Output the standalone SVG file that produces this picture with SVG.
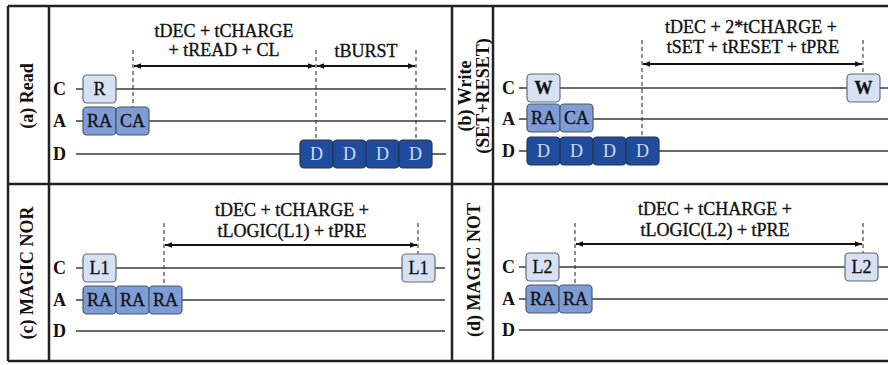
<svg xmlns="http://www.w3.org/2000/svg" width="888" height="365" viewBox="0 0 888 365">
<defs>
<marker id="ah" viewBox="0 0 10 10" refX="10" refY="5" markerWidth="7" markerHeight="7" markerUnits="userSpaceOnUse" orient="auto-start-reverse">
<path d="M0,1 L10,5 L0,9 Z" fill="#111"/>
</marker>
<style>
.frame{stroke:#222;stroke-width:2.5;fill:none}
.tl{stroke:#3a3a3a;stroke-width:1.6;fill:none}
.dash{stroke:#333;stroke-width:1.1;stroke-dasharray:4 3;fill:none}
.arr{stroke:#111;stroke-width:2.2;fill:none;marker-start:url(#ah);marker-end:url(#ah)}
.lt{fill:#d7e1f2;stroke:#5f6b7c;stroke-width:1.2}
.md{fill:#7e9dd4;stroke:#4a5670;stroke-width:1.2}
.dk{fill:#1f4c9c;stroke:#2a3550;stroke-width:1.2}
text{font-family:"Liberation Serif","Times New Roman",serif;fill:#111}
.lab{font-size:18px;font-weight:bold}
.side{font-size:18px;font-weight:bold;text-anchor:middle}
.eq{font-size:18px;text-anchor:middle;stroke:#111;stroke-width:0.35}
.bx{font-size:18px;text-anchor:middle;stroke:#111;stroke-width:0.3}
.bxw{font-size:18px;text-anchor:middle;fill:#d3ddf2}
</style>
</defs>
<rect width="888" height="365" fill="#fff"/>
<g id="frame">
<line class="frame" x1="8" y1="6" x2="888" y2="6"/>
<line class="frame" x1="8" y1="184" x2="888" y2="184"/>
<line class="frame" x1="8" y1="361" x2="888" y2="361"/>
<line class="frame" x1="8" y1="6" x2="8" y2="361"/>
<line class="frame" x1="49" y1="6" x2="49" y2="361"/>
<line class="frame" x1="452" y1="6" x2="452" y2="361"/>
<line class="frame" x1="493" y1="6" x2="493" y2="361"/>
</g>
<g id="connectors">
<line class="tl" x1="76" y1="89" x2="446" y2="89"/>
<line class="tl" x1="76" y1="121" x2="446" y2="121"/>
<line class="tl" x1="76" y1="154" x2="446" y2="154"/>
<line class="tl" x1="519" y1="88" x2="888" y2="88"/>
<line class="tl" x1="519" y1="119" x2="888" y2="119"/>
<line class="tl" x1="519" y1="151" x2="888" y2="151"/>
<line class="tl" x1="76" y1="268" x2="445" y2="268"/>
<line class="tl" x1="76" y1="300" x2="445" y2="300"/>
<line class="tl" x1="76" y1="331" x2="445" y2="331"/>
<line class="tl" x1="519" y1="267" x2="888" y2="267"/>
<line class="tl" x1="519" y1="299" x2="888" y2="299"/>
<line class="tl" x1="519" y1="330" x2="888" y2="330"/>
<line class="dash" x1="133" y1="50" x2="133" y2="107"/>
<line class="dash" x1="316" y1="50" x2="316" y2="140"/>
<line class="dash" x1="416" y1="50" x2="416" y2="140"/>
<line class="dash" x1="642" y1="40" x2="642" y2="137"/>
<line class="dash" x1="863" y1="40" x2="863" y2="74"/>
<line class="dash" x1="164" y1="223" x2="164" y2="286"/>
<line class="dash" x1="418" y1="223" x2="418" y2="254"/>
<line class="dash" x1="575" y1="223" x2="575" y2="285"/>
<line class="dash" x1="863" y1="223" x2="863" y2="253"/>
<line class="arr" x1="134" y1="66" x2="315" y2="66"/>
<line class="arr" x1="317" y1="66" x2="415" y2="66"/>
<line class="arr" x1="643" y1="64" x2="862" y2="64"/>
<line class="arr" x1="165" y1="245" x2="417" y2="245"/>
<line class="arr" x1="576" y1="244" x2="862" y2="244"/>
</g>
<g id="panel-a">
<text class="side" transform="translate(33,96) rotate(-90)">(a) Read</text>
<text class="lab" x="53" y="95">C</text>
<text class="lab" x="53" y="127">A</text>
<text class="lab" x="53" y="160">D</text>
<text class="eq" x="224" y="37">tDEC + tCHARGE</text>
<text class="eq" x="224" y="56">+ tREAD + CL</text>
<text class="eq" x="366" y="57">tBURST</text>
<g id="a-R"><rect class="lt" x="83" y="75" width="33" height="28" rx="4"/><text class="bx" x="99.5" y="95">R</text></g>
<g id="a-RA"><rect class="md" x="83" y="107" width="33" height="28" rx="4"/><text class="bx" x="99.5" y="127">RA</text></g>
<g id="a-CA"><rect class="md" x="116" y="107" width="33" height="28" rx="4"/><text class="bx" x="132.5" y="127">CA</text></g>
<g id="a-D1"><rect class="dk" x="300" y="140" width="33" height="28" rx="4"/><text class="bxw" x="316.5" y="160">D</text></g>
<g id="a-D2"><rect class="dk" x="333" y="140" width="33" height="28" rx="4"/><text class="bxw" x="349.5" y="160">D</text></g>
<g id="a-D3"><rect class="dk" x="366" y="140" width="33" height="28" rx="4"/><text class="bxw" x="382.5" y="160">D</text></g>
<g id="a-D4"><rect class="dk" x="399" y="140" width="33" height="28" rx="4"/><text class="bxw" x="415.5" y="160">D</text></g>
</g>
<g id="panel-b">
<text class="side" transform="translate(471,96) rotate(-90)">(b) Write</text>
<text class="side" transform="translate(489,96) rotate(-90)">(SET+RESET)</text>
<text class="lab" x="502" y="94">C</text>
<text class="lab" x="502" y="125">A</text>
<text class="lab" x="502" y="157">D</text>
<text class="eq" x="751" y="33">tDEC + 2*tCHARGE +</text>
<text class="eq" x="753" y="53">tSET + tRESET + tPRE</text>
<g id="b-W1"><rect class="lt" x="527" y="74" width="33" height="28" rx="4"/><text class="bx" x="543.5" y="94" font-weight="bold">W</text></g>
<g id="b-RA"><rect class="md" x="527" y="104" width="33" height="28" rx="4"/><text class="bx" x="543.5" y="124">RA</text></g>
<g id="b-CA"><rect class="md" x="560" y="104" width="33" height="28" rx="4"/><text class="bx" x="576.5" y="124">CA</text></g>
<g id="b-D1"><rect class="dk" x="527" y="137" width="33" height="28" rx="4"/><text class="bxw" x="543.5" y="157">D</text></g>
<g id="b-D2"><rect class="dk" x="560" y="137" width="33" height="28" rx="4"/><text class="bxw" x="576.5" y="157">D</text></g>
<g id="b-D3"><rect class="dk" x="593" y="137" width="33" height="28" rx="4"/><text class="bxw" x="609.5" y="157">D</text></g>
<g id="b-D4"><rect class="dk" x="626" y="137" width="33" height="28" rx="4"/><text class="bxw" x="642.5" y="157">D</text></g>
<g id="b-W2"><rect class="lt" x="847" y="74" width="33" height="28" rx="4"/><text class="bx" x="863.5" y="94" font-weight="bold">W</text></g>
</g>
<g id="panel-c">
<text class="side" transform="translate(33,273) rotate(-90)">(c) MAGIC NOR</text>
<text class="lab" x="53" y="274">C</text>
<text class="lab" x="53" y="306">A</text>
<text class="lab" x="53" y="337">D</text>
<text class="eq" x="292" y="216">tDEC + tCHARGE +</text>
<text class="eq" x="292" y="237">tLOGIC(L1) + tPRE</text>
<g id="c-L1a"><rect class="lt" x="83" y="254" width="33" height="28" rx="4"/><text class="bx" x="99.5" y="274">L1</text></g>
<g id="c-RA1"><rect class="md" x="83" y="286" width="33" height="28" rx="4"/><text class="bx" x="99.5" y="306">RA</text></g>
<g id="c-RA2"><rect class="md" x="116" y="286" width="33" height="28" rx="4"/><text class="bx" x="132.5" y="306">RA</text></g>
<g id="c-RA3"><rect class="md" x="149" y="286" width="33" height="28" rx="4"/><text class="bx" x="165.5" y="306">RA</text></g>
<g id="c-L1b"><rect class="lt" x="402" y="254" width="33" height="28" rx="4"/><text class="bx" x="418.5" y="274">L1</text></g>
</g>
<g id="panel-d">
<text class="side" transform="translate(480,270) rotate(-90)">(d) MAGIC NOT</text>
<text class="lab" x="502" y="273">C</text>
<text class="lab" x="502" y="305">A</text>
<text class="lab" x="502" y="336">D</text>
<text class="eq" x="715" y="215">tDEC + tCHARGE +</text>
<text class="eq" x="715" y="236">tLOGIC(L2) + tPRE</text>
<g id="d-L2a"><rect class="lt" x="526" y="253" width="33" height="28" rx="4"/><text class="bx" x="542.5" y="273">L2</text></g>
<g id="d-RA1"><rect class="md" x="526" y="285" width="33" height="28" rx="4"/><text class="bx" x="542.5" y="305">RA</text></g>
<g id="d-RA2"><rect class="md" x="559" y="285" width="33" height="28" rx="4"/><text class="bx" x="575.5" y="305">RA</text></g>
<g id="d-L2b"><rect class="lt" x="845" y="253" width="33" height="28" rx="4"/><text class="bx" x="861.5" y="273">L2</text></g>
</g>
</svg>
